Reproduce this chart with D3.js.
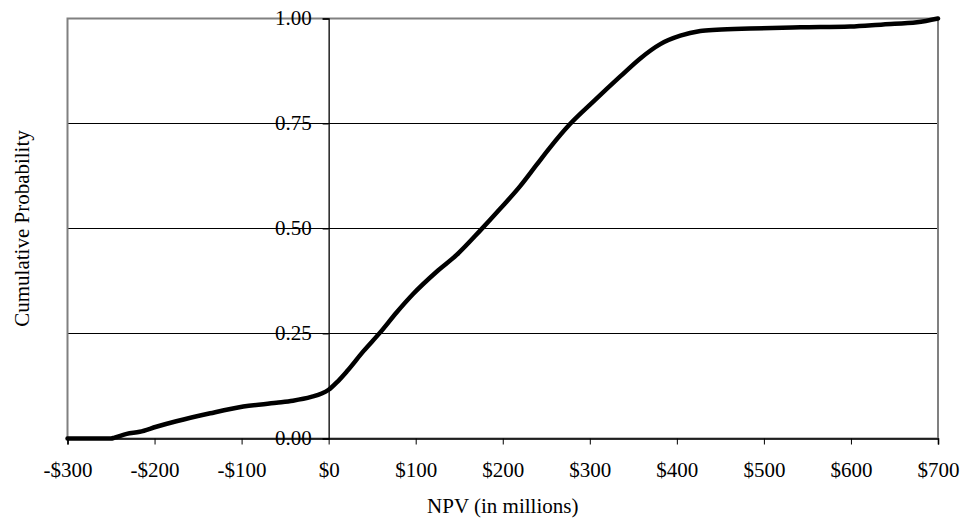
<!DOCTYPE html>
<html>
<head>
<meta charset="utf-8">
<script src="https://cdn.jsdelivr.net/npm/d3@7"></script>
<style>
  html, body { margin: 0; padding: 0; background: #fff; }
  svg { display: block; font-family: "Liberation Serif", "Times New Roman", serif; }
</style>
</head>
<body>
<svg id="chart" width="966" height="523"></svg>
<script>
// Simulated NPV outcomes (in $ millions) and their cumulative probability
const npv = [-300, -250, -246, -232, -217, -198, -175, -136, -98, -60, -41, -20, -8, 0,
  10, 21, 40, 59, 78, 97, 124, 147, 174, 197, 220, 239, 254, 277, 304, 335, 358,
  381, 404, 427, 446, 484, 542, 599, 637, 676, 700];
const cumProb = [0, 0, 0.002, 0.011, 0.016, 0.028, 0.041, 0.060, 0.076, 0.085, 0.090, 0.099, 0.107, 0.116,
  0.135, 0.160, 0.208, 0.252, 0.300, 0.344, 0.397, 0.437, 0.495, 0.547, 0.601, 0.652, 0.692, 0.748, 0.802, 0.862, 0.905,
  0.939, 0.959, 0.970, 0.973, 0.976, 0.979, 0.981, 0.986, 0.991, 1.000];

const xTicks = [-300, -200, -100, 0, 100, 200, 300, 400, 500, 600, 700];
const yTicks = [0, 0.25, 0.5, 0.75, 1];
const xTickLabels = ["-$300", "-$200", "-$100", "$0", "$100", "$200", "$300", "$400", "$500", "$600", "$700"];
const yTickLabels = ["0.00", "0.25", "0.50", "0.75", "1.00"];

const plot = { left: 67.5, right: 938, top: 18.5, bottom: 438.5 };
const fontSize = 21;

const svg = d3.select("#chart");
const x = d3.scaleLinear().domain([-300, 700]).range([plot.left, plot.right]);
const y = d3.scaleLinear().domain([0, 1]).range([plot.bottom, plot.top]);

// Horizontal gridlines
svg.append("g")
  .selectAll("line")
  .data(yTicks.filter(d => d > 0 && d < 1))
  .join("line")
  .attr("x1", plot.left).attr("x2", plot.right)
  .attr("y1", d => y(d)).attr("y2", d => y(d))
  .attr("stroke", "#000").attr("stroke-width", 1);

// Plot frame
svg.append("rect")
  .attr("x", plot.left).attr("y", plot.top)
  .attr("width", plot.right - plot.left).attr("height", plot.bottom - plot.top)
  .attr("fill", "none").attr("stroke", "#808080").attr("stroke-width", 2);

// X axis along p = 0
const xAxis = d3.axisBottom(x)
  .tickValues(xTicks)
  .tickSize(6)
  .tickFormat((d, i) => xTickLabels[i]);
const gx = svg.append("g")
  .attr("transform", `translate(0,${y(0)})`)
  .call(xAxis);
gx.select(".domain").attr("stroke", "#000").attr("stroke-width", 1.6);
gx.selectAll(".tick line").attr("stroke", "#000").attr("stroke-width", 1);
gx.selectAll(".tick text")
  .attr("font-family", "Liberation Serif, Times New Roman, serif")
  .attr("font-size", fontSize).attr("fill", "#000")
  .attr("dy", null).attr("y", 38);

// Y axis crossing at NPV = 0
const yAxis = d3.axisLeft(y)
  .tickValues(yTicks)
  .tickSize(6)
  .tickPadding(11)
  .tickFormat((d, i) => yTickLabels[i]);
const gy = svg.append("g")
  .attr("transform", `translate(${x(0)},0)`)
  .call(yAxis);
gy.select(".domain").attr("stroke", "#000").attr("stroke-width", 1.3);
gy.selectAll(".tick line").attr("stroke", "#000").attr("stroke-width", 1);
gy.selectAll(".tick text")
  .attr("font-family", "Liberation Serif, Times New Roman, serif")
  .attr("font-size", fontSize).attr("fill", "#000")
  .attr("dy", "0.3em");

// Cumulative distribution curve
const line = d3.line()
  .x((d, i) => x(npv[i]))
  .y(d => y(d))
  .curve(d3.curveMonotoneX);
svg.append("path")
  .datum(cumProb)
  .attr("d", line)
  .attr("fill", "none")
  .attr("stroke", "#000")
  .attr("stroke-width", 4.5)
  .attr("stroke-linejoin", "round")
  .attr("stroke-linecap", "round");

// Axis titles
svg.append("text")
  .attr("x", (plot.left + plot.right) / 2).attr("y", 513)
  .attr("text-anchor", "middle")
  .attr("font-size", fontSize)
  .text("NPV (in millions)");

svg.append("text")
  .attr("transform", `translate(29,${(plot.top + plot.bottom) / 2}) rotate(-90)`)
  .attr("text-anchor", "middle")
  .attr("font-size", fontSize)
  .text("Cumulative Probability");
</script>
</body>
</html>
